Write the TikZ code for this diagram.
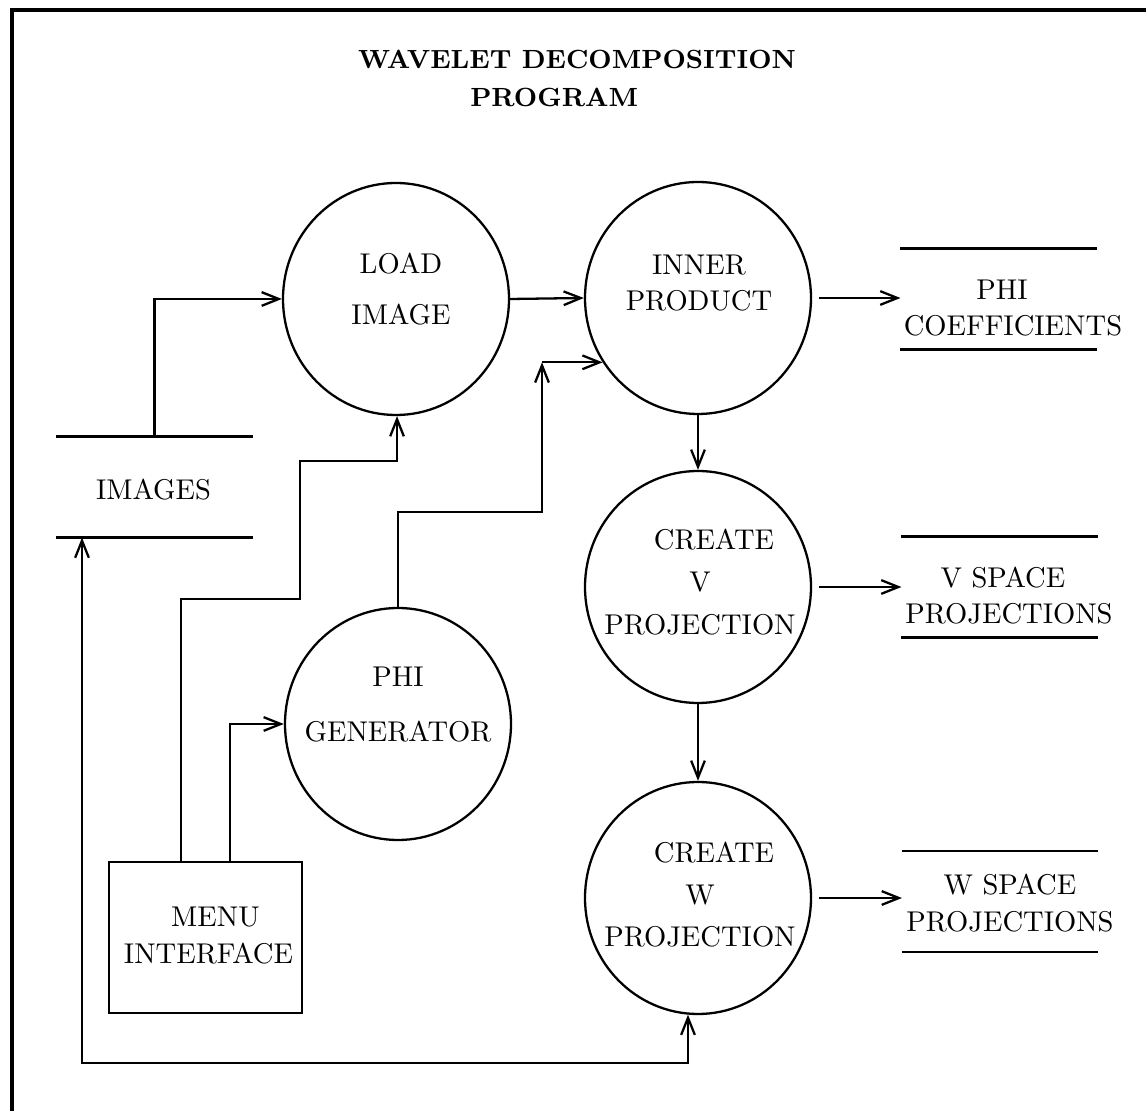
\documentclass[tikz,border=0pt]{standalone}
\usetikzlibrary{arrows.meta,shapes.geometric}
\begin{document}
\begin{tikzpicture}[x=0.35pt, y=-0.35pt,
  every node/.style={font=\fontsize{10}{12}\selectfont},
  flow/.style={line width=0.8pt},
  tip/.tip={Straight Barb[length=6pt,width=4.8pt]},
  arr/.style={flow, -tip},
  proc/.style={ellipse, draw, line width=0.8pt, minimum width=79.1pt,
    minimum height=81.2pt, inner sep=0pt},
  store/.style={minimum width=68.25pt, minimum height=35pt, inner sep=0pt},
  lbl/.style={align=center, inner sep=0pt},
]
\useasboundingbox (0,0) rectangle (1146,1111);

% outer frame
\coordinate (fa) at (12,1111);
\coordinate (fb) at (12,10);
\coordinate (fc) at (1146,10);
\draw[line width=1.1pt] (fa) -- (fb) -- (fc);

% title
\node[lbl, font={\fontsize{9.2}{13.3}\selectfont\bfseries}] (title) at (577,78)
  {WAVELET DECOMPOSITION\\PROGRAM\rule{16pt}{0pt}};

% processes
\node[proc] (load)   at (396,299) {};
\node[proc] (inner)  at (698,298) {};
\node[proc] (vproj)  at (698,587) {};
\node[proc] (wproj)  at (698,898) {};
\node[proc] (phigen) at (398,724) {};

% menu box
\node[draw, line width=0.8pt, minimum width=67.55pt, minimum height=52.85pt,
  inner sep=0pt] (menu) at (205.5,937.5) {};

% data stores (two horizontal rules each)
\node[store] (imgstore) at (154.5,487) {};
\node[store] (phistore) at (998.5,299) {};
\node[store] (vstore)   at (999.5,587) {};
\node[store] (wstore)   at (1000,901.5) {};
\foreach \s in {imgstore,phistore,vstore,wstore}{
  \draw[flow] (\s.north west) -- (\s.north east);
  \draw[flow] (\s.south west) -- (\s.south east);
}

% labels
\node[lbl, font=\fontsize{10}{17.85}\selectfont] (loadtext) at (401,289.5) {LOAD\\IMAGE};
\node[lbl, font=\fontsize{10}{12.6}\selectfont] (innertext) at (699,283) {INNER\\PRODUCT};
\node[lbl, font=\fontsize{10}{14.9}\selectfont] (vtext) at (700,582)
  {\rule{9.8pt}{0pt}CREATE\\V\\PROJECTION};
\node[lbl, font=\fontsize{10}{14.7}\selectfont] (wtext) at (700,895)
  {\rule{9.8pt}{0pt}CREATE\\W\\PROJECTION};
\node[lbl, font=\fontsize{10}{19.3}\selectfont] (phigtext) at (398,704.5) {PHI\\GENERATOR};
\node[lbl, font=\fontsize{10}{13}\selectfont] (menutext) at (208.5,935.5)
  {\rule{4.9pt}{0pt}MENU\\INTERFACE};
\node[lbl] (imgtext) at (153.5,490) {IMAGES};
\node[lbl, font=\fontsize{10}{12.6}\selectfont] (phictext) at (1013,308)
  {PHI\rule{7.7pt}{0pt}\\COEFFICIENTS};
\node[lbl, font=\fontsize{10}{12.6}\selectfont] (vstext) at (1009,596)
  {V SPACE\rule{4.2pt}{0pt}\\PROJECTIONS};
\node[lbl, font=\fontsize{10}{12.95}\selectfont] (wstext) at (1010,903.5)
  {W SPACE\\PROJECTIONS};

% flows
\draw[arr] (imgstore.north) |- (load.west);
\draw[arr] (load.east) -- (inner.west);

\coordinate (s1) at (181,599);
\coordinate (s2) at (300,599);
\coordinate (s3) at (300,461);
\coordinate (s4) at (397,461);
\draw[arr] (s1 |- menu.north) -- (s1) -- (s2) -- (s3) -- (s4) -- (s4 |- load.south);

\coordinate (t1) at (230,724);
\draw[arr] (t1 |- menu.north) -- (t1) -- (phigen.west);

\coordinate (p1) at (542,512);
\draw[arr] (phigen.north) |- (p1) -- (p1 |- inner.214);
\draw[arr] (p1 |- inner.214) -- (inner.214);

\draw[arr] (inner.south) -- (vproj.north);
\draw[arr] (vproj.south) -- (wproj.north);

\draw[arr, shorten <=2.5pt] (inner.east) -- (inner.east -| phistore.west);
\draw[arr, shorten <=2.5pt] (vproj.east) -- (vproj.east -| vstore.west);
\draw[arr, shorten <=2.5pt] (wproj.east) -- (wproj.east -| wstore.west);

\coordinate (f1) at (82,1063);
\coordinate (f2) at (688,1063);
\draw[flow, tip-tip] (f1 |- imgstore.south) -- (f1) -- (f2) -- (f2 |- wproj.265);
\end{tikzpicture}
\end{document}
